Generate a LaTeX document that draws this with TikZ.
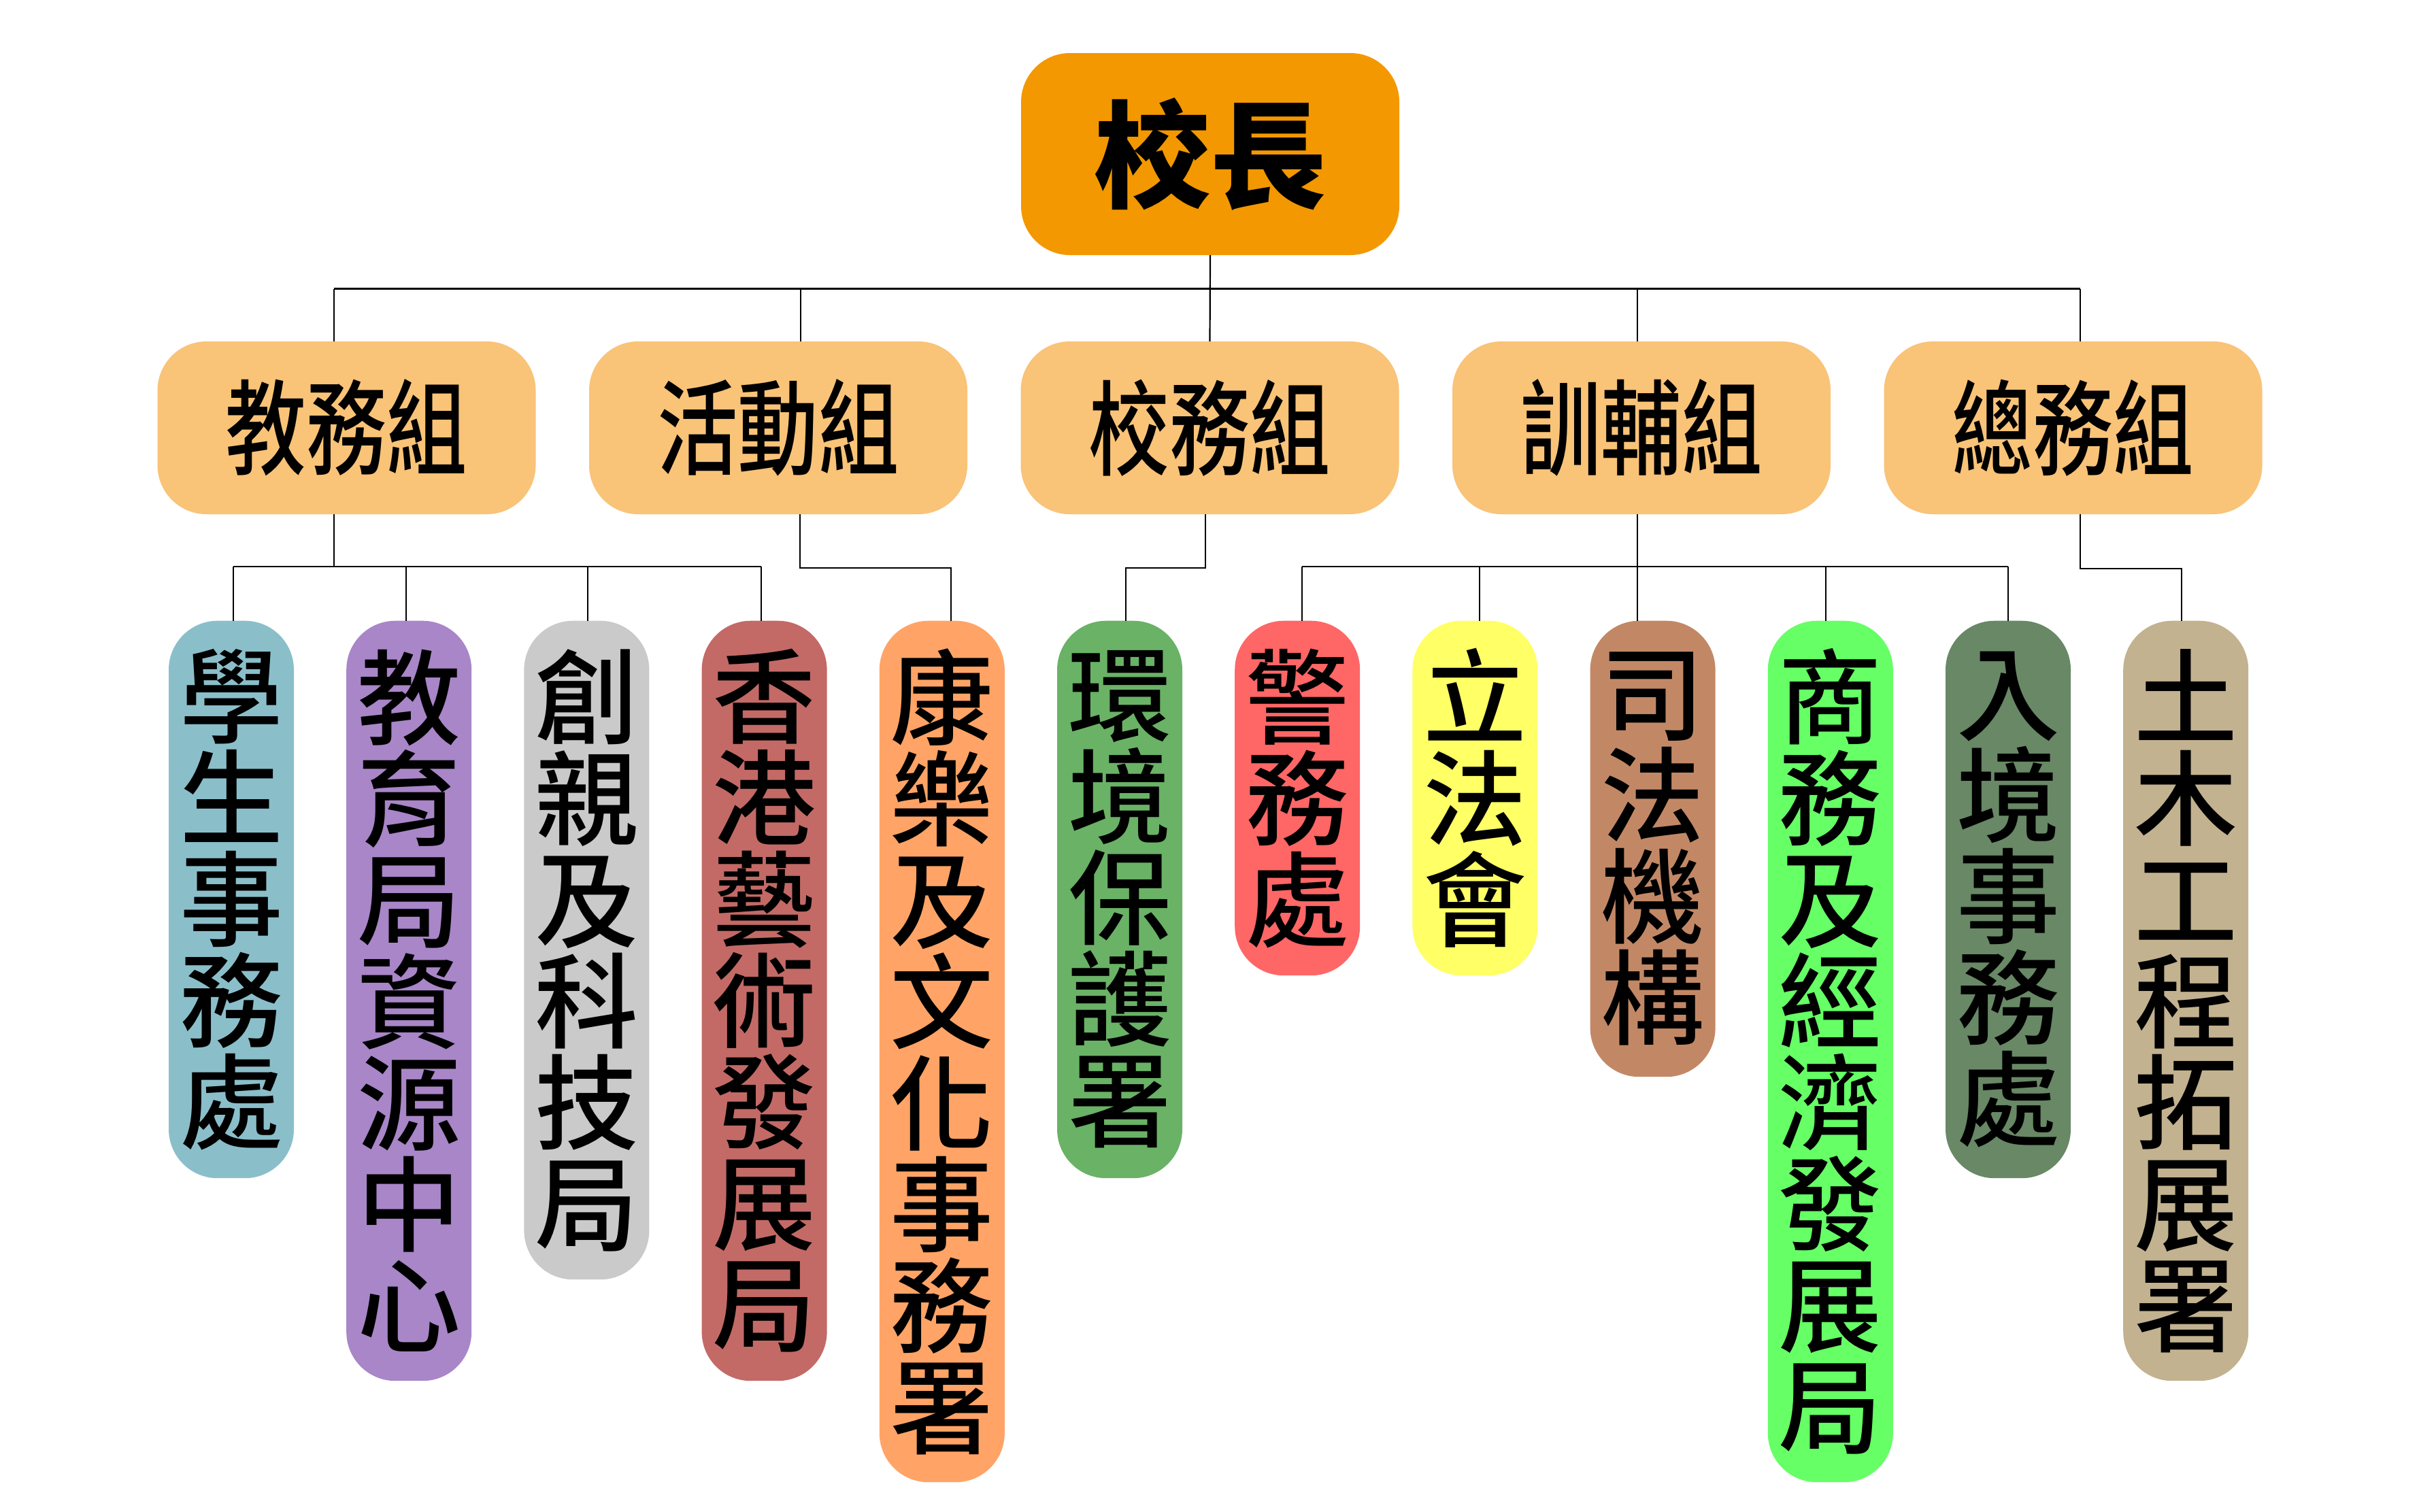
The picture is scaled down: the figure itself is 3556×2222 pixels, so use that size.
\documentclass[tikz,border=0pt]{standalone}
\usepackage{fontspec}
\usetikzlibrary{calc}
\newfontfamily\cjkR{Noto Sans CJK TC}
\newfontfamily\cjkM{Noto Sans CJK TC Medium}
\newfontfamily\cjkC[FakeStretch=0.78]{Noto Sans CJK TC Medium}
\definecolor{rootc}{HTML}{F39800}
\definecolor{grpc}{HTML}{F9C378}
\definecolor{ca}{HTML}{8ABFCA}
\definecolor{cb}{HTML}{A886C8}
\definecolor{cc}{HTML}{CACACA}
\definecolor{cd}{HTML}{C36A66}
\definecolor{ce}{HTML}{FFA466}
\definecolor{cf}{HTML}{6AB266}
\definecolor{cg}{HTML}{FF6666}
\definecolor{ch}{HTML}{FFFF66}
\definecolor{ci}{HTML}{C28866}
\definecolor{cj}{HTML}{66FF66}
\definecolor{ck}{HTML}{688866}
\definecolor{cl}{HTML}{C2B28F}
\tikzset{
  basebox/.style={rounded corners=72pt, inner sep=0pt, draw=none},
  rootbox/.style={basebox, fill=rootc, minimum width=556pt, minimum height=297pt,
    font=\cjkR\bfseries\fontsize{171}{171}\selectfont},
  grpbox/.style={basebox, fill=grpc, minimum width=556pt, minimum height=254pt,
    font=\cjkC\fontsize{152}{152}\selectfont},
  unitbox/.style={basebox, anchor=north, minimum width=184pt, align=center,
    font=\cjkM\fontsize{152}{149}\selectfont},
  conn/.style={draw=black, line width=2.2pt}
}
\begin{document}
\begin{tikzpicture}[x=1pt,y=-1pt]
\useasboundingbox (0,0) rectangle (3556,2222);
\fill[white] (0,0) rectangle (3556,2222);
% root
\node[rootbox] (root) at (1779,226.5) {校長};
% groups
\node[grpbox] (g1) at (509.5,629) {教務組};
\node[grpbox] (g2) at (1144,629) {活動組};
\node[grpbox] (g3) at (1778.5,629) {校務組};
\node[grpbox] (g4) at (2413,629) {訓輔組};
\node[grpbox] (g5) at (3047.5,629) {總務組};
% units
\node[unitbox, fill=ca, minimum height=819.5pt] (u1) at (340,912.5) {學\\生\\事\\務\\處};
\node[unitbox, fill=cb, minimum height=1117.5pt] (u2) at (601.2,912.5) {教\\育\\局\\資\\源\\中\\心};
\node[unitbox, fill=cc, minimum height=968.5pt] (u3) at (862.4,912.5) {創\\親\\及\\科\\技\\局};
\node[unitbox, fill=cd, minimum height=1117.5pt] (u4) at (1123.6,912.5) {香\\港\\藝\\術\\發\\展\\局};
\node[unitbox, fill=ce, minimum height=1266.5pt] (u5) at (1384.8,912.5) {康\\樂\\及\\文\\化\\事\\務\\署};
\node[unitbox, fill=cf, minimum height=819.5pt] (u6) at (1646,912.5) {環\\境\\保\\護\\署};
\node[unitbox, fill=cg, minimum height=521.5pt] (u7) at (1907.2,912.5) {警\\務\\處};
\node[unitbox, fill=ch, minimum height=521.5pt] (u8) at (2168.4,912.5) {立\\法\\會};
\node[unitbox, fill=ci, minimum height=670.5pt] (u9) at (2429.6,912.5) {司\\法\\機\\構};
\node[unitbox, fill=cj, minimum height=1266.5pt] (u10) at (2690.8,912.5) {商\\務\\及\\經\\濟\\發\\展\\局};
\node[unitbox, fill=ck, minimum height=819.5pt] (u11) at (2952,912.5) {入\\境\\事\\務\\處};
\node[unitbox, fill=cl, minimum height=1117.5pt] (u12) at (3213.2,912.5) {土\\木\\工\\程\\拓\\展\\署};
% bus levels
\coordinate (topbus) at (0,424.5);
\coordinate (busA) at (0,833);
\coordinate (busB) at (0,835);
\coordinate (busC) at (0,836);
% top connector points on groups
\coordinate (t1) at ($(g1.north)+(-18.5,0)$);
\coordinate (t2) at ($(g2.north)+(33,0)$);
\coordinate (t4) at ($(g4.north)+(-6,0)$);
\coordinate (t5) at ($(g5.north)+(10.5,0)$);
% bottom connector points on groups
\coordinate (b1) at ($(g1.south)+(-18.5,0)$);
\coordinate (b2) at ($(g2.south)+(32,0)$);
\coordinate (b3) at ($(g3.south)+(-6.5,0)$);
\coordinate (b4) at ($(g4.south)+(-6,0)$);
\coordinate (b5) at ($(g5.south)+(10.5,0)$);
% drop points on units
\coordinate (d1) at ($(u1.north)+(3,0)$);
\coordinate (d2) at ($(u2.north)+(-4.2,0)$);
\coordinate (d3) at ($(u3.north)+(1.6,0)$);
\coordinate (d4) at ($(u4.north)+(-4.6,0)$);
\coordinate (d5) at ($(u5.north)+(13.2,0)$);
\coordinate (d6) at ($(u6.north)+(9,0)$);
\coordinate (d7) at ($(u7.north)+(6.8,0)$);
\coordinate (d8) at ($(u8.north)+(6.6,0)$);
\coordinate (d9) at ($(u9.north)+(-22.6,0)$);
\coordinate (d10) at ($(u10.north)+(-6.8,0)$);
\coordinate (d11) at ($(u11.north)+(0,0)$);
\coordinate (d12) at ($(u12.north)+(-6.2,0)$);
% root to groups
\draw[conn] (root.south) -- (g3.north);
\draw[conn] (t1 |- topbus) -- (t5 |- topbus);
\draw[conn] (t1 |- topbus) -- (t1);
\draw[conn] (t2 |- topbus) -- (t2);
\draw[conn] (t4 |- topbus) -- (t4);
\draw[conn] (t5 |- topbus) -- (t5);
% 教務組
\draw[conn] (b1) -- (b1 |- busA);
\draw[conn] (d1 |- busA) -- (d4 |- busA);
\draw[conn] (d1 |- busA) -- (d1);
\draw[conn] (d2 |- busA) -- (d2);
\draw[conn] (d3 |- busA) -- (d3);
\draw[conn] (d4 |- busA) -- (d4);
% 活動組
\draw[conn] (b2) -- (b2 |- busB) -| (d5);
% 校務組
\draw[conn] (b3) -- (b3 |- busB) -| (d6);
% 訓輔組
\draw[conn] (b4) -- (b4 |- busA);
\draw[conn] (d7 |- busA) -- (d11 |- busA);
\draw[conn] (d7 |- busA) -- (d7);
\draw[conn] (d8 |- busA) -- (d8);
\draw[conn] (d9 |- busA) -- (d9);
\draw[conn] (d10 |- busA) -- (d10);
\draw[conn] (d11 |- busA) -- (d11);
% 總務組
\draw[conn] (b5) -- (b5 |- busC) -| (d12);
\end{tikzpicture}
\end{document}
